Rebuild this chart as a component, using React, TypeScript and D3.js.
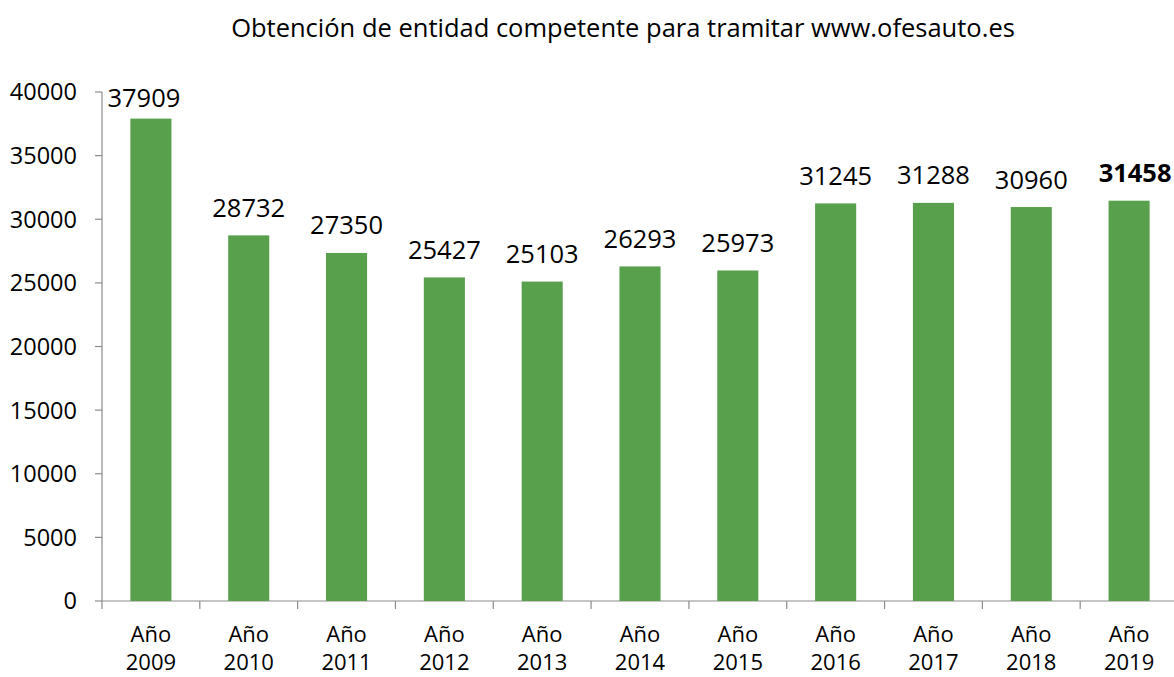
import * as d3 from "d3";
import { useEffect } from "react";

// datos del gráfico
const years = ["2009", "2010", "2011", "2012", "2013", "2014", "2015", "2016", "2017", "2018", "2019"];
const values = [37909, 28732, 27350, 25427, 25103, 26293, 25973, 31245, 31288, 30960, 31458];
const yTicks = [0, 5000, 10000, 15000, 20000, 25000, 30000, 35000, 40000];
const title = "Obtención de entidad competente para tramitar www.ofesauto.es";

const W = 1174;
const H = 677;
const margin = { left: 102, right: -4, top: 92, bottom: 76 };
const FONT = "'Open Sans', sans-serif";
const GREEN = "#58a04b";
const AXIS = "#8c8c8c";

export default function App() {
  useEffect(() => {
    document.body.style.margin = "0";
  }, []);

  const x = d3.scaleBand().domain(years).range([margin.left, W - margin.right]).paddingInner(0.58).paddingOuter(0.29);
  const band = d3.scaleBand().domain(years).range([margin.left, W - margin.right]);
  const y = d3.scaleLinear().domain([0, 40000]).range([H - margin.bottom, margin.top]);
  const y0 = y(0);

  return (
    <svg width={W} height={H} style={{ display: "block", background: "#fff" }} fontFamily={FONT}>
      <text x={623} y={37} textAnchor="middle" fontSize={25.5} fill="#000">
        {title}
      </text>

      {/* eje Y */}
      <line x1={margin.left} x2={margin.left} y1={y(40000)} y2={y0} stroke={AXIS} strokeWidth={1.2} />
      {yTicks.map((t) => (
        <g key={t}>
          <line x1={margin.left - 7} x2={margin.left} y1={y(t)} y2={y(t)} stroke={AXIS} strokeWidth={1.2} />
          <text x={77} y={y(t)} dy="0.36em" textAnchor="end" fontSize={23.5} fill="#000">
            {t}
          </text>
        </g>
      ))}

      {/* eje X */}
      <line x1={margin.left} x2={W} y1={y0} y2={y0} stroke={AXIS} strokeWidth={1.2} />
      {years.map((yr) => (
        <line key={"t" + yr} x1={band(yr)!} x2={band(yr)!} y1={y0} y2={y0 + 8} stroke={AXIS} strokeWidth={1.2} />
      ))}

      {/* barras */}
      {years.map((yr, i) => (
        <rect key={"b" + yr} x={x(yr)!} y={y(values[i])} width={x.bandwidth()} height={y0 - y(values[i])} fill={GREEN} />
      ))}

      {/* etiquetas de valores */}
      {years.map((yr, i) => {
        const cx = x(yr)! + x.bandwidth() / 2;
        const first = i === 0;
        const last = i === years.length - 1;
        return (
          <text
            key={"l" + yr}
            x={first ? cx - 7 : last ? cx + 6 : cx}
            y={first ? y(values[i]) - 12 : y(values[i]) - 18.5}
            textAnchor="middle"
            fontSize={25.5}
            fontWeight={last ? 700 : 400}
            fill="#000"
          >
            {values[i]}
          </text>
        );
      })}

      {/* categorías */}
      {years.map((yr) => {
        const cx = band(yr)! + band.bandwidth() / 2;
        return (
          <text key={"c" + yr} textAnchor="middle" fontSize={22} fill="#000">
            <tspan x={cx} y={642}>Año</tspan>
            <tspan x={cx} y={670}>{yr}</tspan>
          </text>
        );
      })}
    </svg>
  );
}
